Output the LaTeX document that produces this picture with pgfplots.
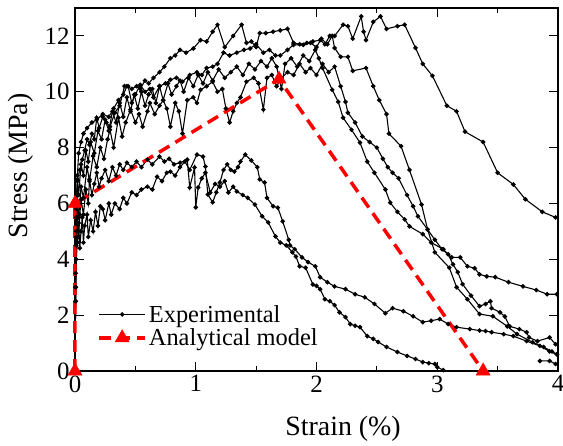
\documentclass[border=0pt]{standalone}
\usepackage{fontspec}
\setmainfont{Liberation Serif}
\usepackage{pgfplots}
\pgfplotsset{compat=1.18}
\begin{document}
\begin{tikzpicture}
\begin{axis}[
  name=ax,
  scale only axis, width=483bp, height=363bp,
  xmin=0, xmax=4, ymin=0, ymax=13,
  xtick={0,1,2,3,4}, minor xtick={0.5,1.5,2.5,3.5},
  ytick={0,2,4,6,8,10,12},
  /pgf/number format/assume math mode=true,
  ticklabel style={font=\fontsize{25}{25}\selectfont},
  xticklabel style={yshift=-1bp},
  yticklabel style={xshift=-2bp},
  major tick length=9bp, minor tick length=5bp,
  tick style={line width=1.1pt, black},
  axis line style={line width=1.3pt},
  xlabel={Strain (\%)}, ylabel={Stress (MPa)},
  label style={font=\fontsize{28}{28}\selectfont},
  xlabel style={at={(axis description cs:0.555,-0.16)}, anchor=center},
  ylabel style={at={(axis description cs:-0.112,0.565)}, anchor=center},
  clip=false,
  legend style={at={(0.046,0.06)}, anchor=south west, draw=none, fill=none,
    font=\fontsize{24.5}{26}\selectfont, row sep=1bp, inner sep=0pt},
  legend cell align=left,
  legend image code/.code={\draw[mark repeat=2,mark phase=2] plot coordinates {(0bp,0bp)(23bp,0bp)(46bp,0bp)};},
  exp/.style={black, line width=1.1pt, mark=*, mark size=1.7bp, mark options={solid}},
]
% C1
\addplot[exp] coordinates {
(0,0)(0.005,3.0)(0.01,5.5)(0.02,7.0)(0.03,7.8)(0.05,8.2)(0.07,8.5)(0.1,8.7)(0.14,8.9)(0.18,9.0)
(0.23,9.2)(0.28,9.1)(0.32,9.4)(0.36,9.7)(0.4,9.9)(0.43,10.2)(0.47,10.1)(0.51,10.2)(0.54,10.1)(0.58,10.4)
(0.61,10.3)(0.65,10.5)(0.7,10.7)(0.74,10.9)(0.79,11.2)(0.83,11.3)(0.87,11.5)(0.92,11.4)(0.98,11.55)(1.04,11.85)
(1.09,11.8)(1.14,12.15)(1.18,12.4)(1.24,11.6)(1.31,12.0)(1.38,12.4)(1.42,11.75)(1.46,11.8)(1.5,11.6)(1.53,12.1)
(1.58,12.1)(1.64,12.15)(1.7,12.2)(1.76,12.25)(1.81,11.75)(1.86,11.7)(1.92,11.75)(1.97,11.8)(2.03,11.85)(2.07,11.7)
(2.11,12.0)(2.15,12.0)(2.22,12.4)(2.26,12.35)(2.3,11.9)(2.37,12.7)(2.39,12.15)(2.41,11.85)(2.47,12.5)(2.53,12.7)
(2.58,12.25)(2.67,12.35)(2.73,12.4)(2.82,11.57)(2.88,11.0)(2.96,10.57)(3.08,9.5)(3.16,9.3)(3.23,8.57)(3.38,8.2)
(3.5,7.1)(3.63,6.68)(3.73,6.15)(3.87,5.7)(3.98,5.5)
};
\addlegendentry{Experimental}
% C2
\addplot[exp, forget plot] coordinates {
(0,0)(0.005,2.5)(0.01,4.8)(0.02,6.86)(0.04,7.2)(0.06,7.57)(0.08,7.9)(0.1,8.3)(0.12,8.1)(0.14,8.5)
(0.16,8.3)(0.18,9.07)(0.2,8.7)(0.23,9.1)(0.26,8.9)(0.29,8.75)(0.33,9.25)(0.37,9.5)(0.41,10.2)(0.44,10.2)
(0.47,9.6)(0.5,9.9)(0.54,10.25)(0.58,10.0)(0.62,10.1)(0.65,9.8)(0.7,10.2)(0.75,10.3)(0.79,10.43)(0.84,10.5)
(0.89,10.36)(0.95,10.6)(1.01,10.7)(1.05,10.6)(1.09,10.85)(1.14,10.9)(1.18,11.0)(1.23,11.4)(1.28,11.3)(1.34,11.4)
(1.4,11.5)(1.45,11.55)(1.5,11.7)(1.56,11.4)(1.61,11.5)(1.66,11.3)(1.7,11.3)(1.76,11.5)(1.81,11.68)(1.89,11.68)
(1.95,11.75)(2.0,11.6)(2.04,11.9)(2.09,11.7)(2.13,12.0)(2.15,11.57)(2.2,11.25)(2.26,11.25)(2.3,10.75)(2.41,10.85)
(2.47,10.2)(2.52,9.7)(2.58,9.2)(2.6,8.5)(2.7,8.05)(2.77,7.2)(2.87,5.96)(2.92,5.07)(2.98,4.25)(3.1,3.7)
(3.16,3.0)(3.25,2.57)(3.35,2.04)(3.46,1.96)(3.58,1.6)(3.66,1.32)(3.79,1.03)(3.88,0.86)(3.95,0.7)(3.99,0.6)
};
% C3
\addplot[exp, forget plot] coordinates {
(0,0)(0.005,3)(0.01,5.0)(0.02,6.0)(0.03,5.5)(0.05,6.6)(0.07,6.2)(0.1,7.3)(0.12,6.8)(0.15,7.7)
(0.18,7.3)(0.21,8.0)(0.24,7.6)(0.27,8.3)(0.29,8.64)(0.32,8.0)(0.36,9.07)(0.39,8.4)(0.42,8.9)(0.46,9.36)
(0.5,8.9)(0.53,9.2)(0.56,8.75)(0.6,9.3)(0.62,9.6)(0.66,9.2)(0.7,9.5)(0.73,9.7)(0.76,9.4)(0.79,8.75)
(0.83,9.6)(0.86,9.3)(0.89,8.5)(0.93,9.7)(0.98,9.8)(1.01,9.6)(1.04,10.07)(1.09,10.2)(1.14,10.36)(1.18,10.0)
(1.22,10.1)(1.25,9.4)(1.28,8.9)(1.31,9.3)(1.34,9.6)(1.37,9.8)(1.42,10.36)(1.48,10.5)(1.52,10.3)(1.56,9.36)
(1.59,10.5)(1.63,10.6)(1.67,10.2)(1.71,10.5)(1.76,10.7)(1.81,10.6)(1.86,11.0)(1.91,10.7)(1.95,10.85)(2.0,10.6)
(2.05,11.0)(2.1,10.7)(2.15,10.9)(2.2,10.2)(2.24,9.64)(2.26,9.25)(2.32,8.9)(2.38,8.4)(2.44,8.2)(2.5,8.0)
(2.55,7.6)(2.59,7.3)(2.63,7.1)(2.68,6.9)(2.75,6.3)(2.8,5.9)(2.84,5.54)(2.92,5.07)(2.98,4.7)(3.04,4.36)
(3.12,4.07)(3.19,4.07)(3.25,3.75)(3.31,3.68)(3.35,3.46)(3.41,3.39)(3.48,3.36)(3.59,3.18)(3.71,3.03)(3.82,2.9)
(3.91,2.75)(3.99,2.75)
};
% C4
\addplot[exp, forget plot] coordinates {
(0,0)(0.005,3.5)(0.01,5.8)(0.02,6.8)(0.03,6.3)(0.05,7.4)(0.07,7.0)(0.09,7.9)(0.11,7.5)(0.13,8.2)
(0.16,7.8)(0.19,8.6)(0.22,8.3)(0.25,9.0)(0.28,8.6)(0.31,9.3)(0.34,8.9)(0.37,9.6)(0.4,9.1)(0.43,9.8)
(0.46,9.3)(0.49,9.9)(0.52,9.4)(0.55,10.0)(0.58,9.5)(0.61,9.9)(0.64,10.1)(0.67,9.6)(0.7,10.2)(0.73,9.7)
(0.77,10.3)(0.8,9.9)(0.84,10.2)(0.87,10.4)(0.9,10.0)(0.94,10.5)(0.98,10.2)(1.02,10.6)(1.06,10.3)(1.1,10.7)
(1.14,10.4)(1.19,10.8)(1.24,10.5)(1.29,10.7)(1.34,10.9)(1.39,10.6)(1.44,11.0)(1.49,10.8)(1.54,11.1)(1.59,10.9)
(1.63,11.2)(1.67,10.9)(1.71,10.1)(1.74,11.0)(1.79,11.2)(1.84,10.9)(1.89,11.3)(1.94,11.1)(1.99,11.5)(2.02,11.2)
(2.05,10.85)(2.13,10.07)(2.18,9.64)(2.22,9.07)(2.29,8.64)(2.36,8.18)(2.42,7.5)(2.48,7.1)(2.57,6.5)(2.61,6.03)
(2.67,5.7)(2.73,5.43)(2.77,5.18)(2.88,4.9)(2.95,4.6)(3.05,4.36)(3.09,4.18)(3.13,3.82)(3.17,3.54)(3.21,3.11)
(3.28,2.7)(3.35,2.32)(3.4,2.4)(3.44,2.5)(3.45,2.25)(3.52,2.1)(3.56,1.95)(3.6,1.6)(3.68,1.5)(3.74,1.39)
(3.76,1.2)(3.83,1.07)(3.93,1.2)(3.98,0.96)
};
% C5
\addplot[exp, forget plot] coordinates {
(0,0)(0.005,2.5)(0.01,4.0)(0.02,4.6)(0.03,5.3)(0.04,4.4)(0.05,5.0)(0.06,5.5)(0.07,4.6)(0.08,5.2)
(0.1,5.6)(0.11,4.8)(0.13,5.4)(0.15,5.0)(0.17,5.7)(0.19,5.2)(0.21,5.9)(0.23,5.8)(0.25,5.4)(0.28,6.0)
(0.3,5.6)(0.33,6.0)(0.37,5.8)(0.4,6.2)(0.43,6.0)(0.47,6.4)(0.51,6.3)(0.55,6.5)(0.6,6.6)(0.64,6.5)
(0.68,6.96)(0.72,6.8)(0.76,7.1)(0.79,7.14)(0.83,7.0)(0.87,7.3)(0.91,7.5)(0.95,7.2)(1.01,7.75)(1.06,7.68)
(1.08,7.32)(1.1,6.32)(1.14,6.04)(1.17,6.4)(1.2,6.75)(1.23,7.2)(1.26,7.4)(1.29,7.2)(1.32,7.14)(1.35,7.3)
(1.37,7.5)(1.41,7.75)(1.46,7.54)(1.51,7.3)(1.53,6.86)(1.57,6.75)(1.59,6.2)(1.64,5.9)(1.68,5.85)(1.72,5.36)
(1.77,4.7)(1.78,4.5)(1.82,4.36)(1.88,4.07)(1.93,3.9)(1.99,3.75)(2.03,3.36)(2.09,3.18)(2.15,3.03)(2.24,2.93)
(2.32,2.75)(2.4,2.64)(2.48,2.4)(2.57,2.07)(2.63,2.25)(2.72,2.14)(2.8,1.96)(2.88,1.75)(2.95,1.8)(3.02,1.86)
(3.09,1.68)(3.16,1.57)(3.27,1.5)(3.35,1.45)(3.4,1.43)(3.45,1.39)(3.55,1.32)(3.63,1.25)(3.74,1.07)(3.85,0.9)
(3.93,0.7)(3.99,0.6)
};
% C6
\addplot[exp, forget plot] coordinates {
(0,0)(0.005,3.0)(0.01,4.5)(0.02,5.5)(0.03,4.8)(0.04,5.6)(0.05,6.14)(0.07,5.6)(0.09,6.5)(0.11,6.0)
(0.12,6.86)(0.14,6.3)(0.16,6.7)(0.18,7.1)(0.2,6.6)(0.22,6.9)(0.25,7.2)(0.28,6.8)(0.31,7.3)(0.34,7.0)
(0.37,7.4)(0.4,7.2)(0.43,7.46)(0.47,7.3)(0.51,7.5)(0.55,7.3)(0.6,7.57)(0.64,7.4)(0.7,7.68)(0.74,7.5)
(0.78,7.6)(0.82,7.4)(0.87,7.46)(0.93,7.57)(0.95,6.57)(0.99,7.29)(1.0,5.86)(1.02,6.57)(1.05,6.9)(1.08,7.1)
(1.12,6.39)(1.16,6.7)(1.2,6.6)(1.24,6.8)(1.27,6.39)(1.31,6.6)(1.34,6.43)(1.39,6.3)(1.43,6.2)(1.49,5.96)
(1.55,5.54)(1.6,5.32)(1.66,4.82)(1.7,4.6)(1.75,4.5)(1.8,4.25)(1.83,4.1)(1.86,3.75)(1.91,3.7)(1.97,3.1)
(2.0,3.05)(2.03,2.93)(2.07,2.57)(2.11,2.5)(2.15,2.36)(2.19,2.1)(2.24,1.93)(2.28,1.68)(2.32,1.62)(2.36,1.57)
(2.42,1.25)(2.47,1.15)(2.51,1.04)(2.58,0.86)(2.67,0.68)(2.75,0.54)(2.82,0.43)(2.88,0.32)(2.93,0.28)(2.98,0.25)
(3.0,0.14)(3.05,0.03)
};
\addplot[exp, forget plot] coordinates {(3.85,0.36)(3.93,0.36)(3.98,0.25)};
% Analytical model
\addplot[red, line width=3.5bp, dash pattern=on 12bp off 7bp, mark=triangle*, mark size=8bp, mark options={solid, line width=0.5pt}]
  coordinates {(0,0)(0,6)(1.69,10.45)(3.38,0)};
\addlegendentry{Analytical model}
\end{axis}
\pgfresetboundingbox
\path[use as bounding box] (ax.south west) ++(-75bp,-75bp) rectangle ([xshift=5bp,yshift=8bp]ax.north east);
\end{tikzpicture}
\end{document}
